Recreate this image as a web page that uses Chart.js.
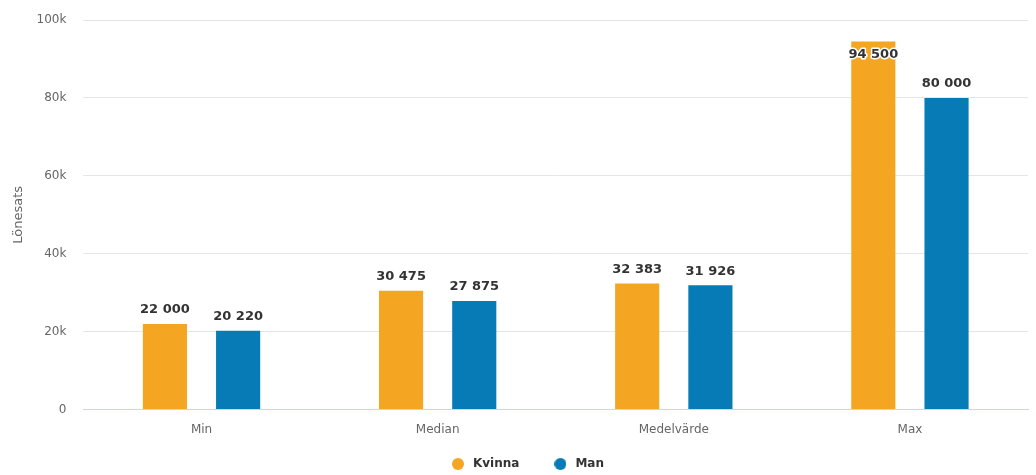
<!DOCTYPE html>
<html>
<head>
<meta charset="utf-8">
<script src="https://cdn.jsdelivr.net/npm/chart.js@4/dist/chart.umd.min.js"></script>
<style>
  html, body { margin: 0; padding: 0; background: #fff; }
  #wrap { width: 1036px; height: 475px; }
</style>
</head>
<body>
<div id="wrap"><canvas id="salaryChart"></canvas></div>
<script>
const categories = ['Min', 'Median', 'Medelvärde', 'Max'];
const kvinna = [22000, 30475, 32383, 94500];
const man = [20220, 27875, 31926, 80000];
const yTicks = [0, 20000, 40000, 60000, 80000, 100000];

const fontFamily = '"DejaVu Sans", Verdana, sans-serif';
const orange = '#F4A623';
const blue = '#067BB5';

function fmt(n) {
  return String(n).replace(/\B(?=(\d{3})+(?!\d))/g, ' ');
}

// small round legend marker
function makeDot(color) {
  const c = document.createElement('canvas');
  c.width = 12;
  c.height = 12;
  const g = c.getContext('2d');
  g.fillStyle = color;
  g.beginPath();
  g.arc(6, 6, 6, 0, Math.PI * 2);
  g.fill();
  return c;
}

// value labels above each bar (inside the bar if no room at the top)
const valueLabels = {
  id: 'valueLabels',
  afterDatasetsDraw(chart) {
    const ctx = chart.ctx;
    const top = chart.chartArea.top;
    ctx.save();
    ctx.font = 'bold 13px ' + fontFamily;
    ctx.textAlign = 'center';
    ctx.textBaseline = 'middle';
    ctx.lineJoin = 'round';
    chart.data.datasets.forEach((ds, i) => {
      chart.getDatasetMeta(i).data.forEach((bar, j) => {
        const txt = fmt(ds.data[j]);
        let y = bar.y - 14;
        if (y - 12 < top) y = bar.y + 13;
        ctx.strokeStyle = '#fff';
        ctx.lineWidth = 3;
        ctx.strokeText(txt, bar.x, y);
        ctx.fillStyle = '#333';
        ctx.fillText(txt, bar.x, y);
      });
    });
    ctx.restore();
  }
};

// legend padding doubles as item spacing, so keep its box short for layout,
// then pull its top up so the row lands near the bottom edge
const legendPlace = {
  id: 'legendPlace',
  beforeLayout(chart) {
    const lg = chart.legend;
    if (!lg || lg._patched) return;
    const fit = lg.fit;
    lg.fit = function () {
      fit.call(this);
      this.height = 33;
    };
    lg._patched = true;
  },
  afterLayout(chart) {
    const lg = chart.legend;
    lg.top -= 16;
    lg.height += 16;
    lg.left += 7;
    lg.right += 7;
  }
};

new Chart(document.getElementById('salaryChart'), {
  type: 'bar',
  data: {
    labels: categories,
    datasets: [
      { label: 'Kvinna', data: kvinna, backgroundColor: orange, pointStyle: makeDot(orange) },
      { label: 'Man', data: man, backgroundColor: blue, pointStyle: makeDot(blue) }
    ]
  },
  options: {
    responsive: true,
    maintainAspectRatio: false,
    animation: false,
    layout: { padding: { top: 0, right: 8, bottom: 0, left: 11 } },
    datasets: { bar: { categoryPercentage: 0.62, barPercentage: 0.603 } },
    plugins: {
      tooltip: { enabled: false },
      legend: {
        position: 'bottom',
        labels: {
          usePointStyle: true,
          pointStyleWidth: 18,
          boxHeight: 12,
          padding: 32,
          color: '#333',
          font: { family: fontFamily, size: 12, weight: 'bold' }
        }
      }
    },
    scales: {
      x: {
        grid: { display: false },
        border: { color: '#ccd6eb' },
        ticks: { color: '#666', font: { family: fontFamily, size: 12 }, padding: 5 }
      },
      y: {
        min: 0,
        max: 100000,
        afterBuildTicks(axis) { axis.ticks = yTicks.map(v => ({ value: v })); },
        afterFit(axis) { axis.paddingTop = 20; },
        grid: { color: '#e6e6e6', drawTicks: false },
        border: { display: false },
        ticks: {
          color: '#666',
          padding: 17,
          font: { family: fontFamily, size: 12 },
          callback: v => v === 0 ? '0' : (v / 1000) + 'k'
        },
        title: {
          display: true,
          text: 'Lönesats',
          color: '#666',
          padding: { top: 0, bottom: -7 },
          font: { family: fontFamily, size: 13 }
        }
      }
    }
  },
  plugins: [valueLabels, legendPlace]
});
</script>
</body>
</html>
